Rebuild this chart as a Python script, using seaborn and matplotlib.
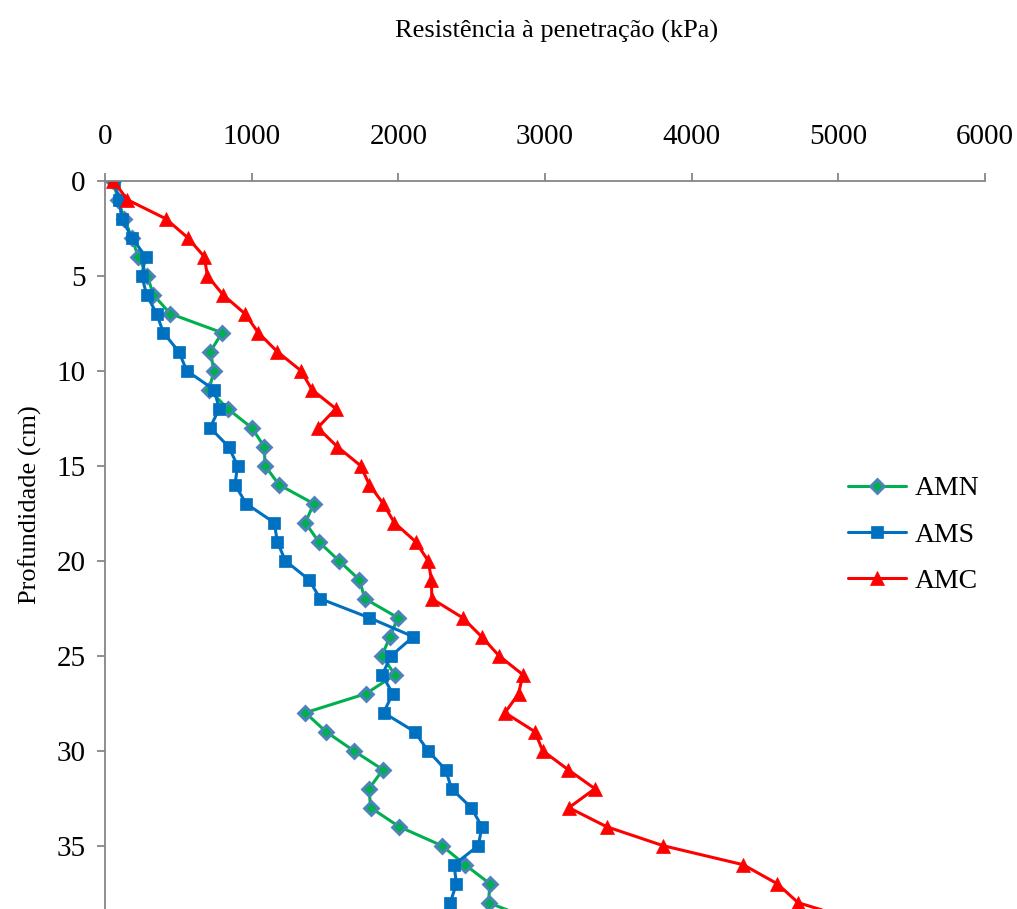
import matplotlib
matplotlib.use("Agg")
import matplotlib.pyplot as plt
import seaborn as sns
import pandas as pd

# ---- data ----
depth = [0, 1, 2, 3, 4, 5, 6, 7, 8, 9, 10, 11, 12, 13, 14, 15, 16, 17, 18, 19,
         20, 21, 22, 23, 24, 25, 26, 27, 28, 29, 30, 31, 32, 33, 34, 35, 36, 37, 38, 39]

amn = [57, 87, 132, 182, 227, 289, 329, 445, 798, 718, 743, 710, 836, 1000, 1086,
       1091, 1186, 1423, 1366, 1457, 1595, 1734, 1772, 1997, 1943, 1888, 1977, 1779,
       1366, 1507, 1695, 1895, 1800, 1811, 2006, 2297, 2455, 2624, 2615, 2950]
ams = [61, 97, 114, 184, 277, 250, 284, 352, 398, 504, 557, 744, 779, 716, 843,
       904, 886, 963, 1154, 1175, 1229, 1391, 1467, 1801, 2102, 1952, 1890, 1961,
       1900, 2111, 2202, 2322, 2363, 2497, 2570, 2545, 2380, 2396, 2354]
amc = [57, 152, 414, 564, 677, 698, 804, 954, 1045, 1175, 1336, 1411, 1574, 1450,
       1584, 1743, 1802, 1897, 1973, 2118, 2203, 2226, 2228, 2438, 2568, 2686, 2849,
       2820, 2727, 2931, 2984, 3158, 3340, 3163, 3420, 3806, 4351, 4583, 4726, 5150]

series_names = ["AMN", "AMS", "AMC"]
series_values = [amn, ams, amc]

x_label = "Resistência à penetração (kPa)"
y_label = "Profundidade (cm)"
x_ticks = [0, 1000, 2000, 3000, 4000, 5000, 6000]
y_ticks = [0, 5, 10, 15, 20, 25, 30, 35]

# ---- styles ----
colors = {"AMN": "#00B050", "AMS": "#0070C0", "AMC": "#FF0000"}
markers = {"AMN": "D", "AMS": "s", "AMC": "^"}
msizes = {"AMN": 7.5, "AMS": 9.0, "AMC": 10.0}
medge = {"AMN": "#4F81BD", "AMS": "#0070C0", "AMC": "#FF0000"}
mew = {"AMN": 2.0, "AMS": 0.5, "AMC": 0.5}

sns.set_style("white")
plt.rcParams["font.family"] = ["Liberation Serif", "DejaVu Serif"]
plt.rcParams["text.color"] = "black"
plt.rcParams["xtick.labelcolor"] = "black"
plt.rcParams["ytick.labelcolor"] = "black"
plt.rcParams["axes.labelcolor"] = "black"

fig = plt.figure(figsize=(10.17, 9.09), dpi=100)
ax = fig.add_axes([105 / 1017, (909 - 940.7) / 909, 880 / 1017, 760 / 909])

for name, vals in zip(series_names, series_values):
    df = pd.DataFrame({"kPa": vals, "depth": depth[:len(vals)]})
    sns.lineplot(data=df, x="kPa", y="depth", ax=ax, sort=False, estimator=None,
                 color=colors[name], linewidth=2.2, marker=markers[name],
                 markersize=msizes[name], markeredgecolor=medge[name],
                 markerfacecolor=colors[name], markeredgewidth=mew[name],
                 label=name)

ax.set_xlim(0, 6000)
ax.set_ylim(40, 0)
ax.set_xticks(x_ticks)
ax.set_yticks(y_ticks)
ax.xaxis.tick_top()
ax.xaxis.set_label_position("top")

spine_col = "#868686"
for s in ["right", "bottom"]:
    ax.spines[s].set_visible(False)
for s in ["top", "left"]:
    ax.spines[s].set_color(spine_col)
    ax.spines[s].set_linewidth(1.3)

ax.tick_params(axis="x", which="major", direction="out", length=6, width=1.3,
               color=spine_col, labelsize=21, pad=16, top=True, bottom=False,
               labelcolor="black")
ax.tick_params(axis="y", which="major", direction="out", length=6, width=1.3,
               color=spine_col, labelsize=21, pad=8, left=True, right=False,
               labelcolor="black")

ax.set_xlabel(x_label, fontsize=19, va="center", color="black")
ax.xaxis.set_label_coords(0.513, (940.7 - 31) / 760)
ax.set_ylabel(y_label, fontsize=19, va="center", color="black")
ax.yaxis.set_label_coords(-0.085, (940.7 - 505) / 760)

ax.grid(False)

leg = ax.legend(loc="center left", bbox_to_anchor=(848 / 1017, 1 - 535 / 909),
                bbox_transform=fig.transFigure, frameon=False, fontsize=20,
                handlelength=2.1, handletextpad=0.3, labelspacing=0.75,
                borderpad=0, borderaxespad=0)
for t in leg.get_texts():
    t.set_color("black")

fig.savefig("out.png", dpi=100)
